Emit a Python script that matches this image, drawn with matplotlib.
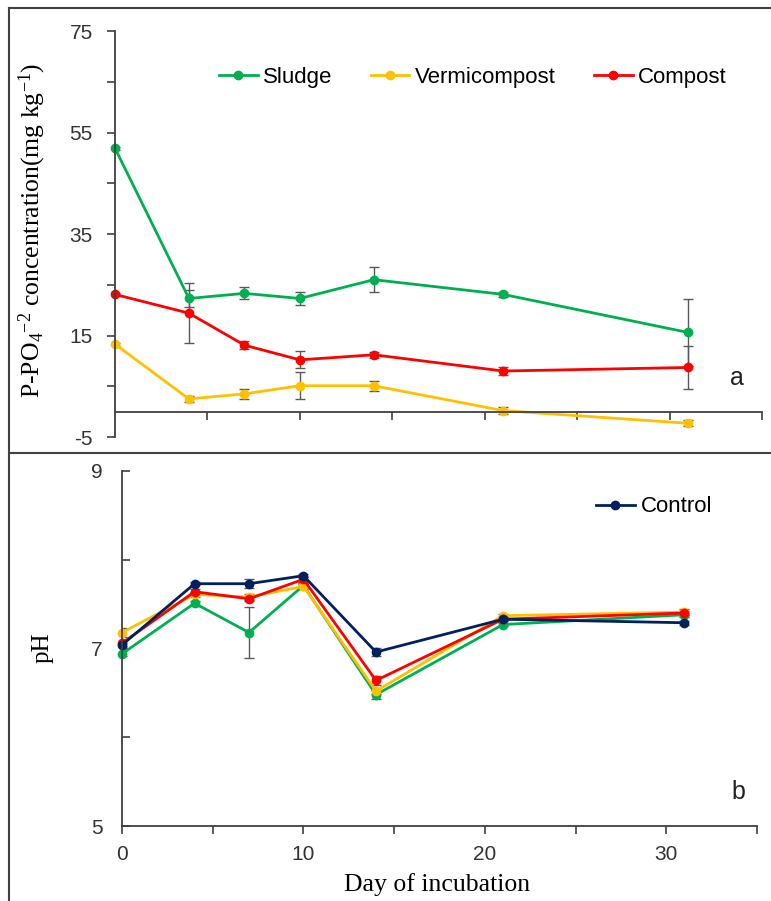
import numpy as np
import matplotlib
matplotlib.use('Agg')
import matplotlib.pyplot as plt
from matplotlib.lines import Line2D

plt.rcParams['font.family'] = ['Liberation Sans', 'DejaVu Sans']
plt.rcParams['mathtext.fontset'] = 'custom'
plt.rcParams['mathtext.rm'] = 'Liberation Serif'
plt.rcParams['mathtext.it'] = 'Liberation Serif:italic'
plt.rcParams['axes.unicode_minus'] = False

# data
days = [0, 4, 7, 10, 14, 21, 31]
series = ['Sludge', 'Vermicompost', 'Compost', 'Control']
colors = ['#00B050', '#FFC000', '#FF0000', '#002060']

p_sludge = [51.9, 22.3, 23.3, 22.3, 26.0, 23.1, 15.6]
p_sludge_err = [0.3, 1.6, 1.2, 1.3, 2.5, 0.5, 6.6]
p_verm = [13.3, 2.5, 3.5, 5.1, 5.1, 0.2, -2.3]
p_verm_err = [0.3, 0.6, 1.0, 2.7, 1.0, 0.7, 0.6]
p_comp = [23.1, 19.4, 13.1, 10.2, 11.2, 8.0, 8.7]
p_comp_err = [0.3, 5.9, 0.8, 1.7, 0.6, 0.8, 4.2]

ph_sludge = [6.94, 7.51, 7.18, 7.71, 6.48, 7.27, 7.38]
ph_sludge_err = [0.03, 0.03, 0.29, 0.03, 0.05, 0.02, 0.02]
ph_verm = [7.18, 7.61, 7.58, 7.70, 6.52, 7.37, 7.41]
ph_verm_err = [0.05, 0.03, 0.03, 0.03, 0.03, 0.02, 0.03]
ph_comp = [7.06, 7.64, 7.56, 7.78, 6.64, 7.33, 7.40]
ph_comp_err = [0.03, 0.03, 0.03, 0.03, 0.05, 0.02, 0.02]
ph_ctrl = [7.04, 7.73, 7.73, 7.82, 6.96, 7.33, 7.29]
ph_ctrl_err = [0.02, 0.02, 0.05, 0.02, 0.05, 0.02, 0.02]

W, H = 771, 901
fig = plt.figure(figsize=(W / 100, H / 100), dpi=100)

def px(x0, y0, x1, y1):
    return [x0 / W, 1 - y1 / H, (x1 - x0) / W, (y1 - y0) / H]

axc = '#404040'
errc = '#595959'

# ---- panel a ----
ax1 = fig.add_axes(px(115, 31, 762, 437))
for vals, err, c, name in zip([p_sludge, p_verm, p_comp],
                              [p_sludge_err, p_verm_err, p_comp_err],
                              colors[:3], series[:3]):
    eb = ax1.errorbar(days, vals, yerr=err, color=c, lw=2, marker='o', ms=6,
                      ecolor=errc, elinewidth=1, capsize=3.5, capthick=1, label=name)
    eb[0].set_clip_on(False)
ax1.set_xlim(0, 35)
ax1.set_ylim(-5, 75)
ax1.spines['top'].set_visible(False)
ax1.spines['right'].set_visible(False)
ax1.spines['bottom'].set_position(('data', 0))
for s in ['left', 'bottom']:
    ax1.spines[s].set_color(axc)
    ax1.spines[s].set_linewidth(1.3)
ax1.set_yticks([-5, 15, 35, 55, 75])
ax1.set_yticks([5, 25, 45, 65], minor=True)
ax1.set_xticks([5, 10, 15, 20, 25, 30, 35])
ax1.set_xticklabels([])
ax1.tick_params(axis='both', which='both', direction='out', length=6, width=1.2,
                color=axc, labelsize=15, labelcolor='#333333')
ax1.tick_params(axis='y', pad=10)
h, l = ax1.get_legend_handles_labels()
h = [Line2D([], [], color=c, lw=2, marker='o', ms=6) for c in colors[:3]]
ax1.legend(h, l, ncol=3, frameon=False, fontsize=16, loc='center left',
           bbox_to_anchor=((219 - 115) / 647, (437 - 77) / 406),
           handlelength=1.75, handletextpad=0.25, columnspacing=1.7,
           borderaxespad=0, borderpad=0)
ax1.text((737 - 115) / 647, (437 - 378) / 406, 'a', transform=ax1.transAxes,
         fontsize=18, ha='center', va='center', color='#222222')

# ---- panel b ----
ax2 = fig.add_axes(px(122, 471, 757, 826))
for vals, err, c, name in zip([ph_sludge, ph_verm, ph_comp, ph_ctrl],
                              [ph_sludge_err, ph_verm_err, ph_comp_err, ph_ctrl_err],
                              colors, series):
    eb = ax2.errorbar(days, vals, yerr=err, color=c, lw=2, marker='o', ms=6,
                      ecolor=errc, elinewidth=1, capsize=3.5, capthick=1, label=name)
    eb[0].set_clip_on(False)
ax2.set_xlim(0, 35)
ax2.set_ylim(5, 9)
ax2.spines['top'].set_visible(False)
ax2.spines['right'].set_visible(False)
for s in ['left', 'bottom']:
    ax2.spines[s].set_color(axc)
    ax2.spines[s].set_linewidth(1.3)
ax2.set_yticks([5, 7, 9])
ax2.set_yticks([6, 8], minor=True)
ax2.set_xticks([0, 10, 20, 30])
ax2.set_xticks([5, 15, 25, 35], minor=True)
ax2.tick_params(axis='y', which='both', direction='in', length=6, width=1.2,
                color=axc, labelsize=15, labelcolor='#333333', pad=14)
ax2.tick_params(axis='x', which='both', direction='out', length=6, width=1.2,
                color=axc, labelsize=15, labelcolor='#333333', pad=8)
ax2.legend([Line2D([], [], color=colors[3], lw=2, marker='o', ms=6)], ['Control'],
           frameon=False, fontsize=16, loc='center left',
           bbox_to_anchor=((596 - 122) / 635, (826 - 507) / 355),
           handlelength=1.75, handletextpad=0.25, borderaxespad=0, borderpad=0)
ax2.text((738 - 122) / 635, (826 - 792) / 355, 'b', transform=ax2.transAxes,
         fontsize=18, ha='center', va='center', color='#222222')

# axis labels
fig.text(32 / W, 1 - 230 / H, r'P-PO$_4$$^{-2}$ concentration(mg kg$^{-1}$)',
         rotation=90, ha='center', va='center', fontsize=18.5, family='Liberation Serif')
fig.text(43 / W, 1 - 648 / H, 'pH', rotation=90, ha='center', va='center',
         fontsize=18, family='Liberation Serif')
fig.text(437 / W, 1 - 885 / H, 'Day of incubation', ha='center', va='center',
         fontsize=18.5, family='Liberation Serif')

# panel frames
for xs, ys in [([9, W], [8, 8]), ([9, 9], [8, H]), ([9, W], [453, 453])]:
    fig.add_artist(Line2D([x / W for x in xs], [1 - y / H for y in ys],
                          color='#404040', lw=1.5))

fig.savefig('out.png', dpi=100)
